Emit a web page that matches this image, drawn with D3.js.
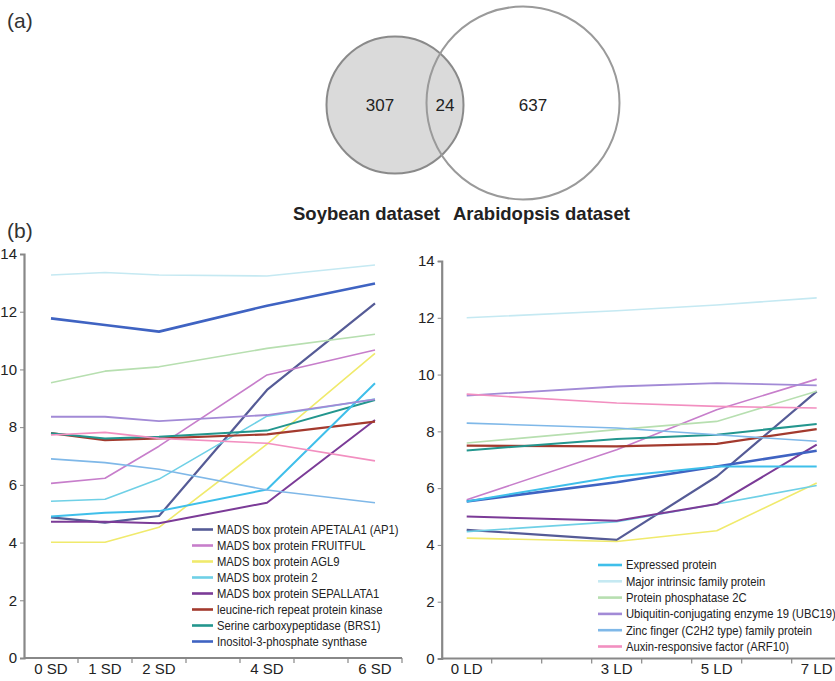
<!DOCTYPE html>
<html>
<head>
<meta charset="utf-8">
<script src="https://cdn.jsdelivr.net/npm/d3@7"></script>
<style>
  body { margin: 0; background: #fff; }
  svg { display: block; font-family: "Liberation Sans", Arial, sans-serif; }
</style>
</head>
<body>
<svg width="835" height="681"></svg>
<script>
// venn counts
var vennCounts = [307, 24, 637];
var vennLabels = ["Soybean dataset", "Arabidopsis dataset"];

// genes, shared by both panels (legend split 8 / 6)
var genes = [
  "MADS box protein APETALA1 (AP1)",
  "MADS box protein FRUITFUL",
  "MADS box protein AGL9",
  "MADS box protein 2",
  "MADS box protein SEPALLATA1",
  "leucine-rich repeat protein kinase",
  "Serine carboxypeptidase (BRS1)",
  "Inositol-3-phosphate synthase",
  "Expressed protein",
  "Major intrinsic family protein",
  "Protein phosphatase 2C",
  "Ubiquitin-conjugating enzyme 19 (UBC19)",
  "Zinc finger (C2H2 type) family protein",
  "Auxin-responsive factor (ARF10)"
];
var geneColors = ["#555b96", "#c77ecb", "#f0ea6c", "#6fd0e6", "#7b3b97", "#a33a2e", "#23968e",
  "#3f63c2", "#3fbfea", "#c5e9f2", "#b7dfb0", "#a28ad6", "#7fb8e8", "#f28fc0"];
var geneWidths = [2.2, 1.6, 1.6, 1.6, 2, 2.2, 2, 2.6, 2, 1.6, 1.6, 1.8, 1.6, 1.6];

// short-day panel
var sdCategories = ["0 SD", "1 SD", "2 SD", "3 SD", "4 SD", "5 SD", "6 SD"];
var sdTickLabels = ["0 SD", "1 SD", "2 SD", "", "4 SD", "", "6 SD"];
var sdSampled = ["0 SD", "1 SD", "2 SD", "4 SD", "6 SD"];
var sdValues = [
  [4.87, 4.69, 4.92, 9.29, 12.29],
  [6.05, 6.23, 7.34, 9.81, 10.67],
  [4.01, 4.01, 4.53, 7.41, 10.56],
  [5.43, 5.50, 6.20, 8.38, 8.97],
  [4.72, 4.72, 4.67, 5.38, 8.25],
  [7.79, 7.55, 7.61, 7.75, 8.19],
  [7.79, 7.61, 7.67, 7.88, 8.94],
  [11.77, 11.54, 11.31, 12.21, 12.98],
  [4.90, 5.03, 5.09, 5.84, 9.52],
  [13.27, 13.36, 13.27, 13.24, 13.62],
  [9.54, 9.94, 10.09, 10.73, 11.22],
  [8.36, 8.36, 8.21, 8.42, 8.96],
  [6.90, 6.77, 6.54, 5.82, 5.38],
  [7.73, 7.82, 7.61, 7.44, 6.83]
];

// long-day panel
var ldCategories = ["0 LD", "1 LD", "2 LD", "3 LD", "4 LD", "5 LD", "6 LD", "7 LD"];
var ldTickLabels = ["0 LD", "", "", "3 LD", "", "5 LD", "", "7 LD"];
var ldSampled = ["0 LD", "3 LD", "5 LD", "7 LD"];
var ldValues = [
  [4.53, 4.18, 6.41, 9.41],
  [5.59, 7.35, 8.76, 9.84],
  [4.24, 4.12, 4.50, 6.18],
  [4.47, 4.82, 5.44, 6.09],
  [5.00, 4.85, 5.44, 7.53],
  [7.50, 7.47, 7.56, 8.08],
  [7.33, 7.73, 7.88, 8.26],
  [5.53, 6.21, 6.76, 7.32],
  [5.53, 6.41, 6.76, 6.76],
  [12.00, 12.25, 12.45, 12.70],
  [7.59, 8.06, 8.35, 9.41],
  [9.26, 9.58, 9.70, 9.62],
  [8.29, 8.12, 7.88, 7.65],
  [9.31, 9.00, 8.88, 8.82]
];

var yTicks = [0, 2, 4, 6, 8, 10, 12, 14];

var svg = d3.select("svg");

// panel letters
svg.append("text").attr("x", 7).attr("y", 28).attr("font-size", 21).attr("fill", "#333").text("(a)");
svg.append("text").attr("x", 7).attr("y", 238).attr("font-size", 21).attr("fill", "#333").text("(b)");

// ---- venn (a)
var venn = svg.append("g");
venn.append("circle").attr("cx", 395).attr("cy", 105).attr("r", 68.5)
    .attr("fill", "#dadada").attr("stroke", "#8a8a8a").attr("stroke-width", 2);
venn.append("circle").attr("cx", 523).attr("cy", 103).attr("r", 96.5)
    .attr("fill", "none").attr("stroke", "#9a9a9a").attr("stroke-width", 2);
venn.selectAll("text.count")
    .data(vennCounts)
  .enter().append("text")
    .attr("class", "count")
    .attr("x", function(d, i) { return [380, 445, 533][i]; })
    .attr("y", 111)
    .attr("text-anchor", "middle")
    .attr("font-size", 17)
    .attr("fill", "#222")
    .text(function(d) { return d; });
venn.selectAll("text.set")
    .data(vennLabels)
  .enter().append("text")
    .attr("class", "set")
    .attr("x", function(d, i) { return [293, 453][i]; })
    .attr("y", 220)
    .attr("font-size", 18.5)
    .attr("font-weight", "bold")
    .attr("fill", "#222")
    .text(function(d) { return d; });

// ---- line panels (b)
function panel(opts) {
  var g = svg.append("g");
  var x = d3.scaleBand().domain(opts.categories).range(opts.xRange);
  var y = d3.scaleLinear().domain([0, 14]).range(opts.yRange);

  var line = d3.line()
      .x(function(d) { return x(d.cat) + x.bandwidth() / 2; })
      .y(function(d) { return y(d.v); });

  g.selectAll("path.gene")
      .data(opts.values.map(function(vals, i) {
        return { i: i, pts: vals.map(function(v, k) { return { cat: opts.sampled[k], v: v }; }) };
      }))
    .enter().append("path")
      .attr("class", "gene")
      .attr("fill", "none")
      .attr("stroke", function(d) { return geneColors[d.i]; })
      .attr("stroke-width", function(d) { return geneWidths[d.i]; })
      .attr("stroke-linejoin", "round")
      .attr("d", function(d) { return line(d.pts); });

  // y axis
  var ya = g.append("g")
      .attr("transform", "translate(" + opts.xRange[0] + ",0)")
      .call(d3.axisLeft(y).tickValues(yTicks).tickSize(4).tickPadding(3).tickFormat(d3.format("d")));
  ya.select(".domain").attr("stroke", "#888").attr("stroke-width", 2.2);
  ya.selectAll(".tick line").attr("stroke", "#888");
  ya.selectAll("text").attr("font-size", 15).attr("fill", "#222").attr("font-family", "Liberation Sans, Arial, sans-serif");

  // x axis: labels at band centres, ticks at band edges
  var xa = g.append("g")
      .attr("transform", "translate(0," + opts.yRange[0] + ")")
      .call(d3.axisBottom(x).tickSize(0).tickPadding(5)
        .tickFormat(function(d, i) { return opts.tickLabels[i]; }));
  xa.select(".domain").remove();
  xa.selectAll("text").attr("font-size", 15).attr("fill", "#222").attr("font-family", "Liberation Sans, Arial, sans-serif");
  xa.append("line")
      .attr("x1", opts.xRange[0]).attr("x2", opts.xRange[1])
      .attr("stroke", "#888").attr("stroke-width", 2.2);
  xa.selectAll("line.edge")
      .data(opts.categories.slice(1).concat([null]))
    .enter().append("line")
      .attr("class", "edge")
      .attr("x1", function(d) { return d ? x(d) : opts.xRange[1]; })
      .attr("x2", function(d) { return d ? x(d) : opts.xRange[1]; })
      .attr("y1", 0).attr("y2", 5)
      .attr("stroke", "#888").attr("stroke-width", 1.2);

  // legend (text slightly condensed like the original)
  var lg = g.append("g");
  var items = lg.selectAll("g")
      .data(opts.legend)
    .enter().append("g")
      .attr("transform", function(d, k) { return "translate(" + opts.legendX + "," + (opts.legendY + k * opts.legendStep) + ")"; });
  items.append("line")
      .attr("x1", 0).attr("x2", opts.legendLine)
      .attr("stroke", function(d) { return geneColors[d]; })
      .attr("stroke-width", 2.6);
  items.append("text")
      .attr("transform", "translate(" + (opts.legendLine + 4) + ",0) scale(0.9,1)")
      .attr("dy", "0.35em")
      .attr("font-size", 12.5)
      .attr("fill", "#222")
      .text(function(d) { return genes[d]; });
}

panel({
  categories: sdCategories, tickLabels: sdTickLabels, sampled: sdSampled, values: sdValues,
  xRange: [24, 402], yRange: [658, 254],
  legend: [0, 1, 2, 3, 4, 5, 6, 7], legendX: 192, legendY: 529.5, legendStep: 16.0, legendLine: 21
});

panel({
  categories: ldCategories, tickLabels: ldTickLabels, sampled: ldSampled, values: ldValues,
  xRange: [441.7, 841.7], yRange: [658.5, 261],
  legend: [8, 9, 10, 11, 12, 13], legendX: 598, legendY: 565, legendStep: 16.3, legendLine: 24
});
</script>
</body>
</html>
